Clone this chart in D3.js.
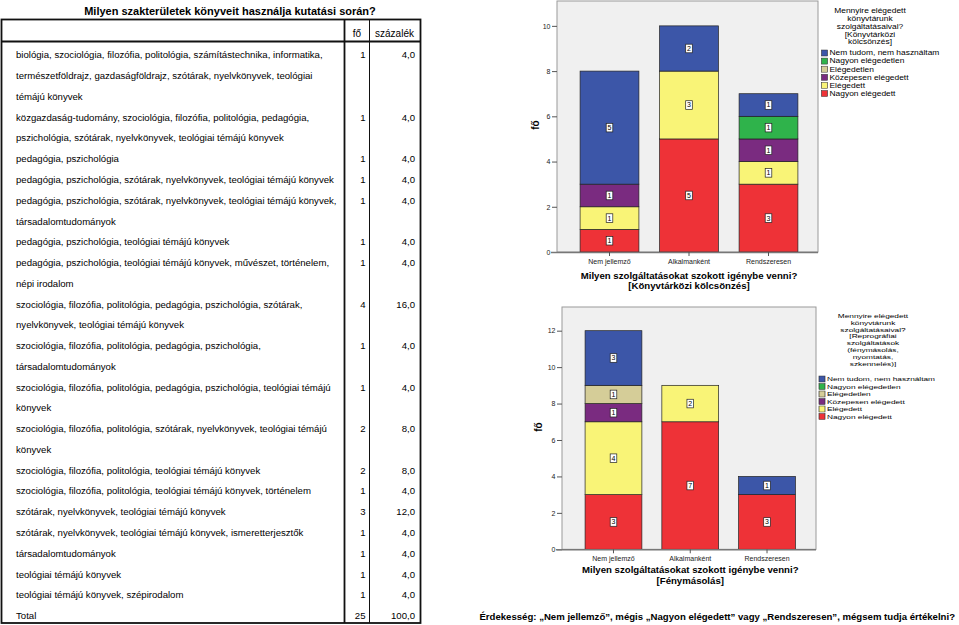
<!DOCTYPE html>
<html>
<head>
<meta charset="utf-8">
<script src="https://cdn.jsdelivr.net/npm/d3@7"></script>
<style>
  body { margin: 0; background: #fff; }
  svg { display: block; font-family: "Liberation Sans", Arial, sans-serif; }
</style>
</head>
<body>
<svg id="page" width="959" height="625"></svg>
<script>
// ---- table data ----
const tableTitle = "Milyen szakterületek könyveit használja kutatási során?";
const tableHeader = ["fő", "százalék"];
const fieldLabels = [
  ["biológia, szociológia, filozófia, politológia, számítástechnika, informatika,",
   "természetföldrajz, gazdaságföldrajz, szótárak, nyelvkönyvek, teológiai",
   "témájú könyvek"],
  ["közgazdaság-tudomány, szociológia, filozófia, politológia, pedagógia,",
   "pszichológia, szótárak, nyelvkönyvek, teológiai témájú könyvek"],
  ["pedagógia, pszichológia"],
  ["pedagógia, pszichológia, szótárak, nyelvkönyvek, teológiai témájú könyvek"],
  ["pedagógia, pszichológia, szótárak, nyelvkönyvek, teológiai témájú könyvek,",
   "társadalomtudományok"],
  ["pedagógia, pszichológia, teológiai témájú könyvek"],
  ["pedagógia, pszichológia, teológiai témájú könyvek, művészet, történelem,",
   "népi irodalom"],
  ["szociológia, filozófia, politológia, pedagógia, pszichológia, szótárak,",
   "nyelvkönyvek, teológiai témájú könyvek"],
  ["szociológia, filozófia, politológia, pedagógia, pszichológia,",
   "társadalomtudományok"],
  ["szociológia, filozófia, politológia, pedagógia, pszichológia, teológiai témájú",
   "könyvek"],
  ["szociológia, filozófia, politológia, szótárak, nyelvkönyvek, teológiai témájú",
   "könyvek"],
  ["szociológia, filozófia, politológia, teológiai témájú könyvek"],
  ["szociológia, filozófia, politológia, teológiai témájú könyvek, történelem"],
  ["szótárak, nyelvkönyvek, teológiai témájú könyvek"],
  ["szótárak, nyelvkönyvek, teológiai témájú könyvek, ismeretterjesztők"],
  ["társadalomtudományok"],
  ["teológiai témájú könyvek"],
  ["teológiai témájú könyvek, szépirodalom"]
];
const fieldCounts = [1, 1, 1, 1, 1, 1, 1, 4, 1, 1, 2, 2, 1, 3, 1, 1, 1, 1];
const fieldPercents = [4.0, 4.0, 4.0, 4.0, 4.0, 4.0, 4.0, 16.0, 4.0, 4.0, 8.0, 8.0, 4.0, 12.0, 4.0, 4.0, 4.0, 4.0];
const totalLabel = "Total";
const totalCount = 25;
const totalPercent = 100.0;

// ---- chart data ----
const frequencies = ["Nem jellemző", "Alkalmanként", "Rendszeresen"];
const satisfaction = ["Nem tudom, nem használtam", "Nagyon elégedetlen", "Elégedetlen",
                      "Közepesen elégedett", "Elégedett", "Nagyon elégedett"];
const satColors = ["#3c56a8", "#2fb34b", "#d5cd98", "#7a2b80", "#f9f477", "#ee3237"];
// one row per satisfaction level (legend order), one value per frequency
const loanCounts = [[5, 2, 1], [0, 0, 1], [0, 0, 0], [1, 0, 1], [1, 3, 1], [1, 5, 3]];
const copyCounts = [[3, 0, 1], [0, 0, 0], [1, 0, 0], [1, 0, 0], [4, 2, 0], [3, 7, 3]];
const loanTicks = [0, 2, 4, 6, 8, 10];
const copyTicks = [0, 2, 4, 6, 8, 10, 12];
const loanLegendTitle = ["Mennyire elégedett", "könyvtárunk", "szolgáltatásaival?", "[Könyvtárközi", "kölcsönzés]"];
const copyLegendTitle = ["Mennyire elégedett", "könyvtárunk", "szolgáltatásaival?", "[Reprográfiai",
                         "szolgáltatások", "(fénymásolás,", "nyomtatás,", "szkennelés)]"];
const loanAxisTitle = ["Milyen szolgáltatásokat szokott igénybe venni?", "[Könyvtárközi kölcsönzés]"];
const copyAxisTitle = ["Milyen szolgáltatásokat szokott igénybe venni?", "[Fénymásolás]"];
const yTitle = "fő";
const footnote = "Érdekesség: „Nem jellemző”, mégis „Nagyon elégedett” vagy „Rendszeresen”, mégsem tudja értékelni?";

const svg = d3.select("#page");
const fmt = v => d3.format(".1f")(v).replace(".", ",");

// ---------------- table ----------------
const table = svg.append("g");
table.append("text")
  .attr("x", 230).attr("y", 15)
  .attr("text-anchor", "middle")
  .style("font-size", "11px").style("font-weight", "bold")
  .text(tableTitle);

// flatten the rows into lines
const lines = [];
fieldLabels.forEach((rows, i) => {
  rows.forEach((t, j) => lines.push({ text: t, count: j === 0 ? fieldCounts[i] : null, pct: j === 0 ? fieldPercents[i] : null }));
});
lines.push({ text: totalLabel, count: totalCount, pct: totalPercent });

const lineY = d3.scaleLinear().domain([0, lines.length - 1]).range([55, 615.7]);
const colX = { label: 16, count: 365.5, pct: 415 };

table.append("rect")
  .attr("x", 1.5).attr("y", 19.5).attr("width", 419).attr("height", 603.5)
  .attr("fill", "none").attr("stroke", "#111").attr("stroke-width", 1.8);
table.append("line").attr("x1", 1.5).attr("x2", 420.5).attr("y1", 41.5).attr("y2", 41.5)
  .attr("stroke", "#111").attr("stroke-width", 1.8);
table.append("line").attr("x1", 344.5).attr("x2", 344.5).attr("y1", 19.5).attr("y2", 623)
  .attr("stroke", "#111").attr("stroke-width", 1.8);
table.append("line").attr("x1", 369.5).attr("x2", 369.5).attr("y1", 19.5).attr("y2", 623)
  .attr("stroke", "#111").attr("stroke-width", 1);

table.append("text").attr("x", 357).attr("y", 37).attr("text-anchor", "middle")
  .style("font-size", "10px").text(tableHeader[0]);
table.append("text").attr("x", 394.5).attr("y", 37).attr("text-anchor", "middle")
  .style("font-size", "10px").text(tableHeader[1]);

const rowG = table.selectAll(".line").data(lines).enter().append("g")
  .attr("transform", (d, i) => `translate(0,${lineY(i)})`)
  .style("font-size", "9.6px");
rowG.append("text").attr("x", colX.label).attr("dy", "0.35em").text(d => d.text);
rowG.filter(d => d.count !== null).append("text")
  .attr("x", colX.count).attr("dy", "0.35em").attr("text-anchor", "end").text(d => d.count);
rowG.filter(d => d.pct !== null).append("text")
  .attr("x", colX.pct).attr("dy", "0.35em").attr("text-anchor", "end").text(d => fmt(d.pct));

// ---------------- charts ----------------
function drawChart(cfg) {
  const g = svg.append("g");
  const y = d3.scaleLinear().domain([0, cfg.yMax]).range([cfg.bottom, cfg.top]);
  const x = d3.scaleBand().domain(frequencies).range(cfg.band).paddingInner(0.26).paddingOuter(0.13);

  // plot background
  g.append("rect")
    .attr("x", cfg.left).attr("y", cfg.top)
    .attr("width", cfg.right - cfg.left).attr("height", cfg.bottom - cfg.top)
    .attr("fill", "#f0f0f0").attr("stroke", "#9a9a9a").attr("stroke-width", 1);

  // stacked data: bottom is "Nagyon elégedett"
  const keys = d3.range(satisfaction.length).reverse();
  const rows = frequencies.map((f, j) => {
    const r = { freq: f };
    keys.forEach(k => { r[k] = cfg.counts[k][j]; });
    return r;
  });
  const series = d3.stack().keys(keys)(rows);

  const segs = [];
  series.forEach(s => s.forEach(d => {
    const v = d[1] - d[0];
    if (v > 0) segs.push({ key: s.key, freq: d.data.freq, y0: d[0], y1: d[1], v });
  }));

  g.selectAll(".seg").data(segs).enter().append("rect")
    .attr("x", d => x(d.freq))
    .attr("y", d => y(d.y1))
    .attr("width", x.bandwidth())
    .attr("height", d => y(d.y0) - y(d.y1))
    .attr("fill", d => satColors[d.key])
    .attr("stroke", "#222").attr("stroke-width", 0.7);

  // value labels in small boxes
  const lab = g.selectAll(".lab").data(segs).enter().append("g")
    .attr("transform", d => `translate(${x(d.freq) + x.bandwidth() / 2},${y((d.y0 + d.y1) / 2)})`);
  lab.append("rect").attr("x", -3.3).attr("y", -4.3).attr("width", 6.6).attr("height", 8.6)
    .attr("fill", "#fff").attr("stroke", "#222").attr("stroke-width", 0.7);
  lab.append("text").attr("text-anchor", "middle").attr("dy", "0.35em")
    .style("font-size", "7px").text(d => d.v);

  // y axis
  const ya = g.append("g").attr("transform", `translate(${cfg.left},0)`)
    .call(d3.axisLeft(y).tickValues(cfg.ticks).tickSize(5).tickPadding(1.5));
  ya.select(".domain").remove();
  ya.selectAll("line").attr("stroke", "#555");
  ya.selectAll("text").style("font-size", "7px").attr("fill", "#222");

  // x axis
  const xa = g.append("g").attr("transform", `translate(0,${cfg.bottom})`)
    .call(d3.axisBottom(x).tickSize(4).tickPadding(3).tickSizeOuter(0));
  xa.select(".domain").attr("d", `M${cfg.left - 6},0.5H${cfg.right}`).attr("stroke", "#777").attr("stroke-width", 1.6);
  xa.selectAll("line").attr("stroke", "#555");
  xa.selectAll("text").style("font-size", "7px").attr("fill", "#222");

  // axis titles
  g.append("text")
    .attr("transform", `translate(${cfg.yTitleX},${cfg.yTitleY}) rotate(-90)`)
    .attr("text-anchor", "middle").attr("dy", "0.35em")
    .style("font-size", "10px").style("font-weight", "bold").text(yTitle);
  const cx = (cfg.band[0] + cfg.band[1]) / 2;
  const xt = g.append("g").attr("transform", `translate(${cx},0) scale(1.07,1)`);
  xt.selectAll(".xt").data(cfg.axisTitle).enter().append("text")
    .attr("x", 0)
    .attr("y", (d, i) => cfg.xTitleY + i * 10.4)
    .attr("text-anchor", "middle").attr("dy", "0.35em")
    .style("font-size", "9px").style("font-weight", "bold").text(d => d);

  // legend: small type, stretched sideways like the original
  const s = cfg.legendStretch;
  const lg = g.append("g").attr("transform", `translate(${cfg.legendX},0) scale(${s},1)`);
  lg.selectAll(".lt").data(cfg.legendTitle).enter().append("text")
    .attr("x", (cfg.legendCx - cfg.legendX) / s)
    .attr("y", (d, i) => cfg.legendTop + i * cfg.legendTitleStep)
    .attr("text-anchor", "middle").attr("dy", "0.35em")
    .style("font-size", cfg.legendFont + "px").text(d => d);
  const items = lg.selectAll(".li").data(satisfaction).enter().append("g")
    .attr("transform", (d, i) => `translate(0,${cfg.legendItemTop + i * cfg.legendItemStep})`);
  items.append("rect").attr("x", 0).attr("y", -3).attr("width", 6 / s).attr("height", 6)
    .attr("fill", (d, i) => satColors[i]).attr("stroke", "#333").attr("stroke-width", 0.5);
  items.append("text").attr("x", 8 / s).attr("dy", "0.35em")
    .style("font-size", cfg.legendFont + "px").text(d => d);
}

drawChart({
  left: 557, right: 818, top: 1, bottom: 252, yMax: 11.1, ticks: loanTicks,
  band: [569.75, 808.25], counts: loanCounts,
  yTitleX: 535, yTitleY: 125, axisTitle: loanAxisTitle, xTitleY: 275.8,
  legendTitle: loanLegendTitle, legendCx: 870, legendTop: 10.8, legendTitleStep: 7.8,
  legendX: 821.5, legendItemTop: 53, legendItemStep: 8.1, legendFont: 6.8, legendStretch: 1.24
});

drawChart({
  left: 562, right: 816, top: 307, bottom: 549.3, yMax: 13.3, ticks: copyTicks,
  band: [575.1, 805.4], counts: copyCounts,
  yTitleX: 538, yTitleY: 427, axisTitle: copyAxisTitle, xTitleY: 570.3,
  legendTitle: copyLegendTitle, legendCx: 873, legendTop: 315.7, legendTitleStep: 6.9,
  legendX: 819, legendItemTop: 379, legendItemStep: 7.5, legendFont: 6, legendStretch: 1.38
});

// footnote
svg.append("text")
  .attr("x", 955).attr("y", 617).attr("dy", "0.35em")
  .attr("text-anchor", "end")
  .style("font-size", "9.6px").style("font-weight", "bold")
  .text(footnote);
</script>
</body>
</html>
